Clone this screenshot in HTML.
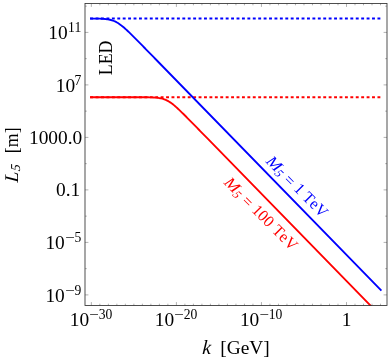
<!DOCTYPE html>
<html><head><meta charset="utf-8"><title>L5 vs k</title>
<style>
html,body{margin:0;padding:0;background:#fff;}
body{width:390px;height:359px;overflow:hidden;}
svg{display:block;will-change:transform;}
text{font-family:"Liberation Serif",serif;}
</style></head><body>
<svg width="390" height="359" viewBox="0 0 390 359">
<rect width="390" height="359" fill="#fff"/>
<defs><clipPath id="c"><rect x="85.0" y="3.5" width="302.0" height="302.4"/></clipPath></defs>
<g clip-path="url(#c)" fill="none" stroke-width="1.85">
<path d="M90.0,18.52 H381.4" stroke="#0000ff" stroke-width="2" stroke-dasharray="2.9 2.52" stroke-dashoffset="-0.2"/>
<path d="M90.0,97.2 H381.4" stroke="#ff0000" stroke-width="2" stroke-dasharray="2.9 2.52" stroke-dashoffset="-0.2"/>
<path d="M90.00,18.54 L90.95,18.55 L91.95,18.55 L92.95,18.56 L93.95,18.57 L94.95,18.58 L95.95,18.60 L96.95,18.61 L97.95,18.63 L98.95,18.66 L99.95,18.69 L100.95,18.73 L101.95,18.78 L102.95,18.84 L103.95,18.91 L104.95,18.99 L105.95,19.10 L106.95,19.22 L107.95,19.37 L108.95,19.55 L109.95,19.76 L110.95,20.01 L111.95,20.30 L112.95,20.63 L113.95,21.01 L114.95,21.44 L115.95,21.93 L116.95,22.47 L117.95,23.06 L118.95,23.70 L119.95,24.40 L120.95,25.13 L121.95,25.91 L122.95,26.72 L123.95,27.57 L124.95,28.45 L125.95,29.35 L126.95,30.27 L127.95,31.21 L128.95,32.16 L129.95,33.13 L130.95,34.11 L131.95,35.09 L132.95,36.09 L133.95,37.08 L134.95,38.09 L135.95,39.10 L136.95,40.11 L137.95,41.12 L138.95,42.14 L139.95,43.15 L140.95,44.17 L141.95,45.19 L142.95,46.21 L143.95,47.23 L144.95,48.26 L145.95,49.28 L146.95,50.30 L147.95,51.33 L148.95,52.35 L149.95,53.37 L150.95,54.40 L151.95,55.42 L152.95,56.45 L153.95,57.47 L154.95,58.50 L155.95,59.52 L381.40,290.61" stroke="#0000ff" stroke-linejoin="round"/>
<path d="M90.00,97.20 L141.20,97.22 L142.20,97.23 L143.20,97.23 L144.20,97.24 L145.20,97.25 L146.20,97.26 L147.20,97.28 L148.20,97.29 L149.20,97.31 L150.20,97.34 L151.20,97.37 L152.20,97.41 L153.20,97.46 L154.20,97.52 L155.20,97.59 L156.20,97.67 L157.20,97.78 L158.20,97.90 L159.20,98.05 L160.20,98.23 L161.20,98.44 L162.20,98.69 L163.20,98.98 L164.20,99.31 L165.20,99.69 L166.20,100.12 L167.20,100.61 L168.20,101.15 L169.20,101.74 L170.20,102.38 L171.20,103.08 L172.20,103.81 L173.20,104.59 L174.20,105.40 L175.20,106.25 L176.20,107.13 L177.20,108.03 L178.20,108.95 L179.20,109.89 L180.20,110.84 L181.20,111.81 L182.20,112.79 L183.20,113.77 L184.20,114.77 L185.20,115.76 L186.20,116.77 L187.20,117.78 L188.20,118.79 L189.20,119.80 L190.20,120.82 L191.20,121.83 L192.20,122.85 L193.20,123.87 L194.20,124.89 L195.20,125.91 L196.20,126.94 L197.20,127.96 L198.20,128.98 L199.20,130.01 L200.20,131.03 L201.20,132.05 L202.20,133.08 L203.20,134.10 L204.20,135.13 L205.20,136.15 L206.20,137.18 L207.20,138.20 L387.40,322.90" stroke="#ff0000" stroke-linejoin="round"/>
</g>
<g stroke="#444" stroke-width="0.42" fill="none"><line x1="91.35" y1="305.50" x2="91.35" y2="302.10"/><line x1="91.35" y1="3.50" x2="91.35" y2="6.90"/><line x1="99.85" y1="305.50" x2="99.85" y2="303.70"/><line x1="99.85" y1="3.50" x2="99.85" y2="5.30"/><line x1="108.36" y1="305.50" x2="108.36" y2="303.70"/><line x1="108.36" y1="3.50" x2="108.36" y2="5.30"/><line x1="116.86" y1="305.50" x2="116.86" y2="303.70"/><line x1="116.86" y1="3.50" x2="116.86" y2="5.30"/><line x1="125.37" y1="305.50" x2="125.37" y2="303.70"/><line x1="125.37" y1="3.50" x2="125.37" y2="5.30"/><line x1="133.87" y1="305.50" x2="133.87" y2="303.70"/><line x1="133.87" y1="3.50" x2="133.87" y2="5.30"/><line x1="142.38" y1="305.50" x2="142.38" y2="303.70"/><line x1="142.38" y1="3.50" x2="142.38" y2="5.30"/><line x1="150.88" y1="305.50" x2="150.88" y2="303.70"/><line x1="150.88" y1="3.50" x2="150.88" y2="5.30"/><line x1="159.39" y1="305.50" x2="159.39" y2="303.70"/><line x1="159.39" y1="3.50" x2="159.39" y2="5.30"/><line x1="167.89" y1="305.50" x2="167.89" y2="303.70"/><line x1="167.89" y1="3.50" x2="167.89" y2="5.30"/><line x1="176.40" y1="305.50" x2="176.40" y2="302.10"/><line x1="176.40" y1="3.50" x2="176.40" y2="6.90"/><line x1="184.90" y1="305.50" x2="184.90" y2="303.70"/><line x1="184.90" y1="3.50" x2="184.90" y2="5.30"/><line x1="193.41" y1="305.50" x2="193.41" y2="303.70"/><line x1="193.41" y1="3.50" x2="193.41" y2="5.30"/><line x1="201.91" y1="305.50" x2="201.91" y2="303.70"/><line x1="201.91" y1="3.50" x2="201.91" y2="5.30"/><line x1="210.42" y1="305.50" x2="210.42" y2="303.70"/><line x1="210.42" y1="3.50" x2="210.42" y2="5.30"/><line x1="218.92" y1="305.50" x2="218.92" y2="303.70"/><line x1="218.92" y1="3.50" x2="218.92" y2="5.30"/><line x1="227.43" y1="305.50" x2="227.43" y2="303.70"/><line x1="227.43" y1="3.50" x2="227.43" y2="5.30"/><line x1="235.94" y1="305.50" x2="235.94" y2="303.70"/><line x1="235.94" y1="3.50" x2="235.94" y2="5.30"/><line x1="244.44" y1="305.50" x2="244.44" y2="303.70"/><line x1="244.44" y1="3.50" x2="244.44" y2="5.30"/><line x1="252.94" y1="305.50" x2="252.94" y2="303.70"/><line x1="252.94" y1="3.50" x2="252.94" y2="5.30"/><line x1="261.45" y1="305.50" x2="261.45" y2="302.10"/><line x1="261.45" y1="3.50" x2="261.45" y2="6.90"/><line x1="269.95" y1="305.50" x2="269.95" y2="303.70"/><line x1="269.95" y1="3.50" x2="269.95" y2="5.30"/><line x1="278.46" y1="305.50" x2="278.46" y2="303.70"/><line x1="278.46" y1="3.50" x2="278.46" y2="5.30"/><line x1="286.96" y1="305.50" x2="286.96" y2="303.70"/><line x1="286.96" y1="3.50" x2="286.96" y2="5.30"/><line x1="295.47" y1="305.50" x2="295.47" y2="303.70"/><line x1="295.47" y1="3.50" x2="295.47" y2="5.30"/><line x1="303.98" y1="305.50" x2="303.98" y2="303.70"/><line x1="303.98" y1="3.50" x2="303.98" y2="5.30"/><line x1="312.48" y1="305.50" x2="312.48" y2="303.70"/><line x1="312.48" y1="3.50" x2="312.48" y2="5.30"/><line x1="320.99" y1="305.50" x2="320.99" y2="303.70"/><line x1="320.99" y1="3.50" x2="320.99" y2="5.30"/><line x1="329.49" y1="305.50" x2="329.49" y2="303.70"/><line x1="329.49" y1="3.50" x2="329.49" y2="5.30"/><line x1="338.00" y1="305.50" x2="338.00" y2="303.70"/><line x1="338.00" y1="3.50" x2="338.00" y2="5.30"/><line x1="346.50" y1="305.50" x2="346.50" y2="302.10"/><line x1="346.50" y1="3.50" x2="346.50" y2="6.90"/><line x1="355.00" y1="305.50" x2="355.00" y2="303.70"/><line x1="355.00" y1="3.50" x2="355.00" y2="5.30"/><line x1="363.51" y1="305.50" x2="363.51" y2="303.70"/><line x1="363.51" y1="3.50" x2="363.51" y2="5.30"/><line x1="372.01" y1="305.50" x2="372.01" y2="303.70"/><line x1="372.01" y1="3.50" x2="372.01" y2="5.30"/><line x1="380.52" y1="305.50" x2="380.52" y2="303.70"/><line x1="380.52" y1="3.50" x2="380.52" y2="5.30"/><line x1="85.00" y1="294.90" x2="88.40" y2="294.90"/><line x1="387.00" y1="294.90" x2="383.60" y2="294.90"/><line x1="85.00" y1="268.65" x2="86.80" y2="268.65"/><line x1="387.00" y1="268.65" x2="385.20" y2="268.65"/><line x1="85.00" y1="242.40" x2="88.40" y2="242.40"/><line x1="387.00" y1="242.40" x2="383.60" y2="242.40"/><line x1="85.00" y1="216.15" x2="86.80" y2="216.15"/><line x1="387.00" y1="216.15" x2="385.20" y2="216.15"/><line x1="85.00" y1="189.90" x2="88.40" y2="189.90"/><line x1="387.00" y1="189.90" x2="383.60" y2="189.90"/><line x1="85.00" y1="163.65" x2="86.80" y2="163.65"/><line x1="387.00" y1="163.65" x2="385.20" y2="163.65"/><line x1="85.00" y1="137.40" x2="88.40" y2="137.40"/><line x1="387.00" y1="137.40" x2="383.60" y2="137.40"/><line x1="85.00" y1="111.15" x2="86.80" y2="111.15"/><line x1="387.00" y1="111.15" x2="385.20" y2="111.15"/><line x1="85.00" y1="84.90" x2="88.40" y2="84.90"/><line x1="387.00" y1="84.90" x2="383.60" y2="84.90"/><line x1="85.00" y1="58.65" x2="86.80" y2="58.65"/><line x1="387.00" y1="58.65" x2="385.20" y2="58.65"/><line x1="85.00" y1="32.40" x2="88.40" y2="32.40"/><line x1="387.00" y1="32.40" x2="383.60" y2="32.40"/><line x1="85.00" y1="6.15" x2="86.80" y2="6.15"/><line x1="387.00" y1="6.15" x2="385.20" y2="6.15"/></g>
<rect x="85.0" y="3.5" width="302.0" height="302.0" fill="none" stroke="#333" stroke-width="0.86"/>
<g font-size="19.4"><text x="81.20" y="31.70" text-anchor="end" font-size="13.6">11</text><text x="48.20" y="38.90">10</text><text x="81.20" y="85.00" text-anchor="end" font-size="13.6">7</text><text x="55.70" y="92.00">10</text><text x="82.30" y="143.90" text-anchor="end">1000.0</text><text x="80.20" y="196.40" text-anchor="end">0.1</text><text x="81.20" y="241.70" text-anchor="end" font-size="13.6">5</text><text transform="translate(65.20,241.70) scale(1.25,1)" font-size="13.6">−</text><text x="45.40" y="248.90">10</text><text x="81.20" y="294.80" text-anchor="end" font-size="13.6">9</text><text transform="translate(65.20,294.80) scale(1.25,1)" font-size="13.6">−</text><text x="45.40" y="302.00">10</text><text x="69.80" y="325.50">10</text><text transform="translate(89.30,318.90) scale(1.25,1)" font-size="13.6">−</text><text x="98.70" y="318.90" font-size="13.6">30</text><text x="154.85" y="325.50">10</text><text transform="translate(174.35,318.90) scale(1.25,1)" font-size="13.6">−</text><text x="183.75" y="318.90" font-size="13.6">20</text><text x="239.90" y="325.50">10</text><text transform="translate(259.40,318.90) scale(1.25,1)" font-size="13.6">−</text><text x="268.80" y="318.90" font-size="13.6">10</text><text x="346.50" y="325.50" text-anchor="middle">1</text></g>
<text font-size="19.4" transform="translate(112.2,57.9) rotate(-90) scale(0.917,1)" text-anchor="middle">LED</text>
<g transform="translate(17.8,155) rotate(-90)" font-size="19.4">
<text transform="translate(-27.7,0) skewX(-5)" font-style="italic">L</text>
<text transform="translate(-16.6,2.2) skewX(-7)" font-size="13.6" font-style="italic">5</text>
<text x="1.8" y="0" textLength="25.8" lengthAdjust="spacingAndGlyphs">[m]</text>
</g>
<text font-size="19.4" transform="translate(201.9,353.7) skewX(-4) scale(1,1.04)" font-style="italic">k</text>
<text font-size="19.4" x="220.2" y="353.6" style="font-kerning:none">[GeV]</text>
<g font-size="16.1" style="font-kerning:none;fill:#0000ff" transform="translate(265.2,161.9) rotate(45)">
<text font-style="italic" transform="scale(1.13,1)">M</text>
<text transform="translate(14.4,2.2) skewX(-7)" font-size="12" font-style="italic">5</text>
<text x="25.7" y="1">=</text>
<text x="39.2" y="0">1</text>
<text x="51.3" y="0">TeV</text>
</g>
<g font-size="16.1" style="font-kerning:none;fill:#ff0000" transform="translate(223.2,183.2) rotate(45)">
<text font-style="italic" transform="scale(1.13,1)">M</text>
<text transform="translate(14.4,2.2) skewX(-7)" font-size="12" font-style="italic">5</text>
<text x="25.7" y="1">=</text>
<text x="39.2" y="0">100</text>
<text x="67.8" y="0">TeV</text>
</g>
</svg>
</body></html>
